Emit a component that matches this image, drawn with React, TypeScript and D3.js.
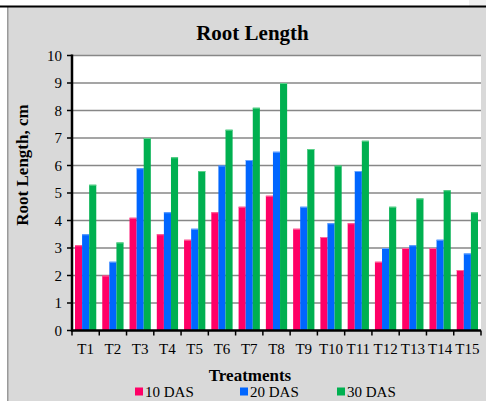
import React from 'react';
import * as d3 from 'd3';

const treatments = ['T1', 'T2', 'T3', 'T4', 'T5', 'T6', 'T7', 'T8', 'T9', 'T10', 'T11', 'T12', 'T13', 'T14', 'T15'];
const seriesNames = ['10 DAS', '20 DAS', '30 DAS'];
const das10 = [3.1, 2.0, 4.1, 3.5, 3.3, 4.3, 4.5, 4.9, 3.7, 3.4, 3.9, 2.5, 3.0, 3.0, 2.2];
const das20 = [3.5, 2.5, 5.9, 4.3, 3.7, 6.0, 6.2, 6.5, 4.5, 3.9, 5.8, 3.0, 3.1, 3.3, 2.8];
const das30 = [5.3, 3.2, 7.0, 6.3, 5.8, 7.3, 8.1, 9.0, 6.6, 6.0, 6.9, 4.5, 4.8, 5.1, 4.3];
const yTicks = [0, 1, 2, 3, 4, 5, 6, 7, 8, 9, 10];
const colors = ['#ff0066', '#0066ff', '#00b050'];
const topColors = ['#ff6699', '#66a3ff', '#5cd18a'];

const W = 486;
const H = 401;
const plot = { left: 72, right: 481, top: 55.5, bottom: 330.5 };
const font = '"Liberation Serif", "Times New Roman", serif';

export default function App() {
  const series = [das10, das20, das30];

  const x = d3.scaleBand<string>()
    .domain(treatments)
    .range([plot.left, plot.right])
    .paddingInner(0.22)
    .paddingOuter(0.11);

  const x1 = d3.scaleBand<number>()
    .domain([0, 1, 2])
    .range([0, x.bandwidth()]);

  const y = d3.scaleLinear().domain([0, 10]).range([plot.bottom, plot.top]);

  const step = x.step();
  const boundaries = d3.range(treatments.length + 1).map(i => plot.left + i * step);

  const legendX = [135, 240, 337];

  return (
    <svg width={W} height={H} style={{ position: 'absolute', left: 0, top: 0 }} fontFamily={font}>
      <rect x={0} y={0} width={W} height={H} fill="#ffffff" />
      <rect x={469} y={0} width={W - 469} height={7} fill="#f0f0f0" />
      <rect x={7} y={7} width={W - 7} height={H - 7} fill="#d9d9d9" />
      <line x1={7.75} x2={7.75} y1={7} y2={H} stroke="#9a9a9a" strokeWidth={1.5} />
      <line x1={0} x2={W} y1={6.5} y2={6.5} stroke="#000" strokeWidth={1.8} />

      <text x={252.5} y={39.5} textAnchor="middle" fontWeight="bold" fontSize={21}>Root Length</text>

      <rect x={plot.left} y={plot.top} width={plot.right - plot.left} height={plot.bottom - plot.top} fill="#ffffff" />

      {yTicks.map(t => (
        <g key={t}>
          {t > 0 && (
            <line x1={plot.left} x2={plot.right} y1={y(t)} y2={y(t)} stroke="#878787" strokeWidth={1.5} />
          )}
          <line x1={plot.left - 5} x2={plot.left} y1={y(t)} y2={y(t)} stroke="#000" strokeWidth={1.5} />
          <text x={62} y={y(t)} dy="0.35em" textAnchor="end" fontSize={15}>{t}</text>
        </g>
      ))}

      {series.map((vals, si) => (
        <g key={si}>
          {vals.map((v, i) => {
            const bx = (x(treatments[i]) ?? 0) + (x1(si) ?? 0);
            return (
              <g key={i}>
                <rect x={bx} y={y(v)} width={x1.bandwidth()} height={y(0) - y(v)} fill={colors[si]} />
                <rect x={bx} y={y(v)} width={x1.bandwidth()} height={1} fill={topColors[si]} />
              </g>
            );
          })}
        </g>
      ))}

      <line x1={plot.left} x2={plot.left} y1={plot.top - 1} y2={plot.bottom + 1} stroke="#000" strokeWidth={2.5} />
      <line x1={plot.left - 1} x2={plot.right} y1={plot.bottom} y2={plot.bottom} stroke="#000" strokeWidth={2.5} />
      {boundaries.map((bx, i) => (
        <line key={i} x1={bx} x2={bx} y1={plot.bottom} y2={plot.bottom + 5} stroke="#000" strokeWidth={1.5} />
      ))}

      {treatments.map(t => (
        <text key={t} x={(x(t) ?? 0) + x.bandwidth() / 2} y={354} textAnchor="middle" fontSize={15}>{t}</text>
      ))}

      <text
        transform={`translate(28,165) rotate(-90)`}
        textAnchor="middle"
        fontWeight="bold"
        fontSize={17}
      >Root Length, cm</text>

      <text x={250} y={381} textAnchor="middle" fontWeight="bold" fontSize={17}>Treatments</text>

      {seriesNames.map((name, i) => (
        <g key={name}>
          <rect x={legendX[i]} y={387.5} width={8} height={8} fill={colors[i]} />
          <text x={legendX[i] + 10} y={396.5} fontSize={15}>{name}</text>
        </g>
      ))}
    </svg>
  );
}
